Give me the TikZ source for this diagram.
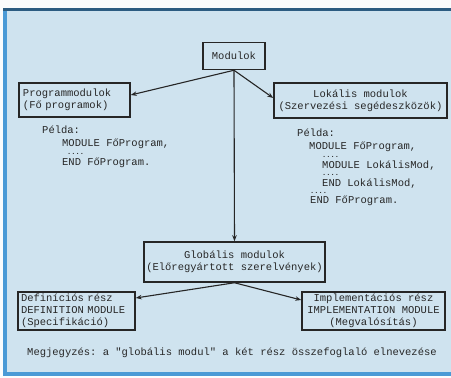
\documentclass[tikz,border=0pt]{standalone}
\usepackage{fontspec}
\setmonofont{Liberation Mono}
\usetikzlibrary{arrows.meta,calc}
\definecolor{panel}{HTML}{CFE3EF}
\definecolor{edgeblue}{HTML}{4A9AD6}
\definecolor{ink}{HTML}{262626}
\tikzset{
  box/.style={draw=ink, line width=1.5pt, rectangle, inner sep=0pt, text=ink,
    font=\ttfamily\fontsize{10.5}{12}\selectfont, align=center},
  code/.style={anchor=west, inner sep=0pt, text=ink, font=\ttfamily\fontsize{10.5}{12}\selectfont},
  dots/.style={anchor=west, inner sep=0pt, text=ink, font=\ttfamily\bfseries\fontsize{7}{7}\selectfont},
  conn/.style={draw=ink, line width=1.1pt, -{Stealth[length=6pt,width=4.5pt]}}
}
\begin{document}
\begin{tikzpicture}[x=1pt,y=-1pt]
\useasboundingbox (0,0) rectangle (451,378);
% background
\fill[white!90!panel] (0,0) rectangle (451,378);
\fill[panel] (3,9) rectangle (451,376);
\fill[edgeblue] (3,9) rectangle (7,376);
\fill[edgeblue] (3,372) rectangle (451,376);
\fill[edgeblue!60!black] (3,8) rectangle (451,11);
% nodes
\node[box, minimum width=62pt, minimum height=27pt] (mod) at (234,56) {Modulok};
\node[box, minimum width=111pt, minimum height=34pt, text width=103pt, align=left] (prog) at (74.5,100) {Programmodulok\\(Fő programok)};
\node[box, minimum width=173pt, minimum height=35pt] (lok) at (360.5,100.5) {Lokális modulok\\(Szervezési segédeszközök)};
\node[box, minimum width=181pt, minimum height=40pt] (glob) at (234.5,262) {Globális modulok\\(Előregyártott szerelvények)};
\node[box, minimum width=117pt, minimum height=38pt, text width=111pt, align=left] (def) at (76.5,311) {Definíciós rész\\DEFINITION MODULE\\(Specifikáció)};
\node[box, minimum width=143pt, minimum height=38pt] (imp) at (373.5,311) {Implementációs rész\\IMPLEMENTATION MODULE\\(Megvalósítás)};
% example code, left
\node[code] (lp) at (42,130) {Példa:};
\node[code] (l1) at (62,144) {MODULE FőProgram,};
\node[dots] (l2) at (67,153.5) {....};
\node[code] (l3) at (62,163) {END FőProgram.};
% example code, right
\node[code] (rp) at (297,133) {Példa:};
\node[code] (r1) at (309,147) {MODULE FőProgram,};
\node[dots] (r2) at (322,156.5) {....};
\node[code] (r3) at (322,166) {MODULE LokálisMod,};
\node[dots] (r4) at (322,175) {....};
\node[code] (r5) at (322,184) {END LokálisMod,};
\node[dots] (r6) at (310,192.5) {....};
\node[code] (r7) at (310,201) {END FőProgram.};
% note
\node[code] (note) at (27,353) {Megjegyzés: a "globális modul" a két rész összefoglaló elnevezése};
% connectors
\draw[conn] (mod.south) -- ($(prog.east)+(0,-5)$);
\draw[conn] (mod.south) -- ($(lok.west)+(0,-2.5)$);
\draw[conn] (mod.south) -- (glob.north);
\draw[conn] (glob.south) -- ($(def.east)+(0,-13)$);
\draw[conn] (glob.south) -- ($(imp.west)+(0,-11)$);
\end{tikzpicture}
\end{document}
